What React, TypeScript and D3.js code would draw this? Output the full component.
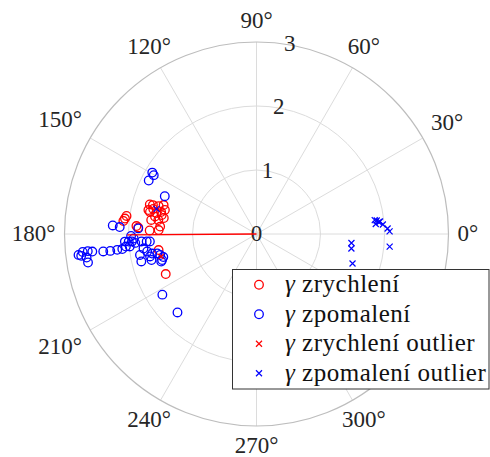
import React, { useEffect, useState } from 'react';
import * as d3 from 'd3';

// polar data: [angle in degrees, radius]
const angleTicks = [0, 30, 60, 90, 120, 150, 180, 210, 240, 270, 300, 330];
const radialTicks = [0, 1, 2, 3];
const legendLabels = ['zrychlení', 'zpomalení', 'zrychlení outlier', 'zpomalení outlier'];

const zrychleni: [number, number][] = [
  [172.1, 2.05], [173.3, 2.07], [174.4, 2.09], [176.8, 1.85], [176.2, 1.88],
  [178.1, 1.67], [177.7, 1.53], [175.6, 1.51], [164.5, 1.73], [166.4, 1.66],
  [164.1, 1.59], [162.7, 1.52], [165.3, 1.48], [168.7, 1.51], [170.2, 1.61],
  [172.4, 1.66], [171.9, 1.55], [167.5, 1.73], [168.3, 1.7], [189.3, 1.55],
  [203.8, 1.55], [167.0, 1.53], [168.2, 1.6], [170.2, 1.47], [164.4, 1.68],
];

const zpomaleni: [number, number][] = [
  [186.7, 2.8], [185.9, 2.73], [185.8, 2.65], [186.1, 2.58], [187.9, 2.68],
  [189.6, 2.67], [187.1, 2.76], [186.5, 2.41], [186.6, 2.3], [186.5, 2.19],
  [186.4, 2.11], [185.5, 2.05], [176.6, 2.25], [177.1, 2.14], [183.4, 2.0],
  [183.4, 1.95], [185.6, 1.99], [184.2, 1.9], [183.7, 1.8], [183.9, 1.72],
  [184.0, 1.67], [177.3, 1.85], [187.3, 1.78], [189.1, 1.73], [190.6, 1.66],
  [191.1, 1.58], [192.3, 1.54], [193.9, 1.5], [195.4, 1.53], [191.9, 1.7],
  [190.2, 1.85], [193.4, 1.85], [193.9, 1.69], [196.1, 1.55], [212.8, 1.75],
  [224.8, 1.74], [149.5, 1.89], [150.2, 1.85], [153.6, 1.88], [157.6, 1.55],
  [183.3, 2.06], [180.9, 1.96], [182.1, 1.92],
];

const zrychleniOutlier: [number, number][] = [[193.3, 1.53]];

const zpomaleniOutlier: [number, number][] = [
  [6.4, 1.89], [4.8, 1.87], [5.8, 1.94], [5.6, 1.92], [4.3, 1.98], [2.4, 2.05],
  [1.1, 2.08], [354.6, 2.09], [354.6, 1.49], [351.3, 1.5], [342.9, 1.57],
  [6.7, 1.86], [165.9, 1.61],
];

const meanVector: [number, number] = [180.4, 2.02];

const fontCss = "'Liberation Serif', 'Tinos', 'Times New Roman', 'FreeSerif'";

export default function App() {
  const [, setReady] = useState(0);
  useEffect(() => {
    // re-render once fonts are resolved
    if (document.fonts) document.fonts.ready.then(() => setReady((n) => n + 1));
  }, []);

  const width = 490;
  const height = 457;
  const cx = 256.5;
  const cy = 234;
  const r = d3.scaleLinear().domain([0, 3]).range([0, 192]);
  const rad = (t: number) => (t * Math.PI) / 180;
  const pt = (t: number, v: number) => [cx + r(v) * Math.cos(rad(t)), cy - r(v) * Math.sin(rad(t))];

  const legendY = d3.scaleBand<string>().domain(legendLabels).range([270, 388]);
  const labelSize = 23;

  // angle label: node anchored on the opposite side at radius 197
  const angleLabel = (t: number) => {
    const text = `${t}°`;
    const w = (text.length - 1) * 0.5 * labelSize + 0.4 * labelSize;
    const hw = w / 2 + 4;
    const hh = 15.5;
    const c = Math.cos(rad(t));
    const s = Math.sin(rad(t));
    const k = Math.min(Math.abs(c) > 1e-6 ? hw / Math.abs(c) : Infinity, Math.abs(s) > 1e-6 ? hh / Math.abs(s) : Infinity);
    const x = cx + 197 * c + k * c;
    const y = cy - 197 * s - k * s - 1.5;
    return { text, x, y };
  };

  const cross = (x: number, y: number, s: number) => `M${x - s},${y - s}L${x + s},${y + s}M${x - s},${y + s}L${x + s},${y - s}`;

  const [mx, my] = pt(meanVector[0], meanVector[1]);

  return (
    <svg width={width} height={height} style={{ position: 'absolute', left: 0, top: 0, background: '#fff', fontFamily: fontCss }}>
      <style>{`text, tspan { font-family: ${fontCss} !important; }`}</style>
      {/* grid */}
      {angleTicks.map((t) => {
        const [x, y] = pt(t, 3);
        return <line key={'a' + t} x1={cx} y1={cy} x2={x} y2={y} stroke="#dcdcdc" strokeWidth={1} />;
      })}
      {radialTicks.filter((v) => v > 0 && v < 3).map((v) => (
        <circle key={'c' + v} cx={cx} cy={cy} r={r(v)} fill="none" stroke="#dcdcdc" strokeWidth={1} />
      ))}
      <circle cx={cx} cy={cy} r={r(3)} fill="none" stroke="#bdbdbd" strokeWidth={1.2} />

      {/* angle labels (330° sits under the legend box) */}
      {angleTicks.filter((t) => t !== 330).map((t) => {
        const l = angleLabel(t);
        return (
          <text key={'l' + t} x={l.x} y={l.y} dy="0.35em" textAnchor="middle" style={{ fontFamily: fontCss }} fontSize={labelSize} fill="#262626">
            {l.text}
          </text>
        );
      })}

      {/* radial labels */}
      {radialTicks.map((v) => {
        const [x, y] = pt(80, v);
        return (
          <text key={'r' + v} x={x} y={y - 1.5} dy="0.35em" textAnchor="middle" style={{ fontFamily: fontCss }} fontSize={labelSize} fill="#262626">
            {v}
          </text>
        );
      })}

      {/* data */}
      {zrychleni.map(([t, v], i) => {
        const [x, y] = pt(t, v);
        return <circle key={'zr' + i} cx={x} cy={y} r={4.3} fill="none" stroke="#ff0000" strokeWidth={1.3} />;
      })}
      {zpomaleni.map(([t, v], i) => {
        const [x, y] = pt(t, v);
        return <circle key={'zp' + i} cx={x} cy={y} r={4.3} fill="none" stroke="#0000ff" strokeWidth={1.3} />;
      })}
      {zrychleniOutlier.map(([t, v], i) => {
        const [x, y] = pt(t, v);
        return <path key={'zro' + i} d={cross(x, y, 2.5)} stroke="#ff0000" strokeWidth={1.2} />;
      })}
      {zpomaleniOutlier.map(([t, v], i) => {
        const [x, y] = pt(t, v);
        return <path key={'zpo' + i} d={cross(x, y, 3)} stroke="#0000ff" strokeWidth={1.2} />;
      })}
      <line x1={cx} y1={cy} x2={mx} y2={my} stroke="#ff0000" strokeWidth={1.3} />

      {/* legend */}
      <rect x={232.5} y={269.5} width={256.5} height={119.5} fill="#fff" stroke="#333" strokeWidth={1} />
      {legendLabels.map((lab, i) => {
        const y = (legendY(lab) ?? 0) + legendY.bandwidth() / 2;
        const color = i % 2 === 0 ? '#ff0000' : '#0000ff';
        return (
          <g key={lab}>
            {i < 2 ? (
              <circle cx={259} cy={y} r={4.3} fill="none" stroke={color} strokeWidth={1.3} />
            ) : (
              <path d={cross(259, y, 3)} stroke={color} strokeWidth={1.2} />
            )}
            <text x={285} y={y} dy="0.3em" style={{ fontFamily: fontCss, letterSpacing: '0.5px' }} fontSize={25} fill="#111">
              <tspan fontStyle="italic">γ</tspan> {lab}
            </text>
          </g>
        );
      })}
    </svg>
  );
}
